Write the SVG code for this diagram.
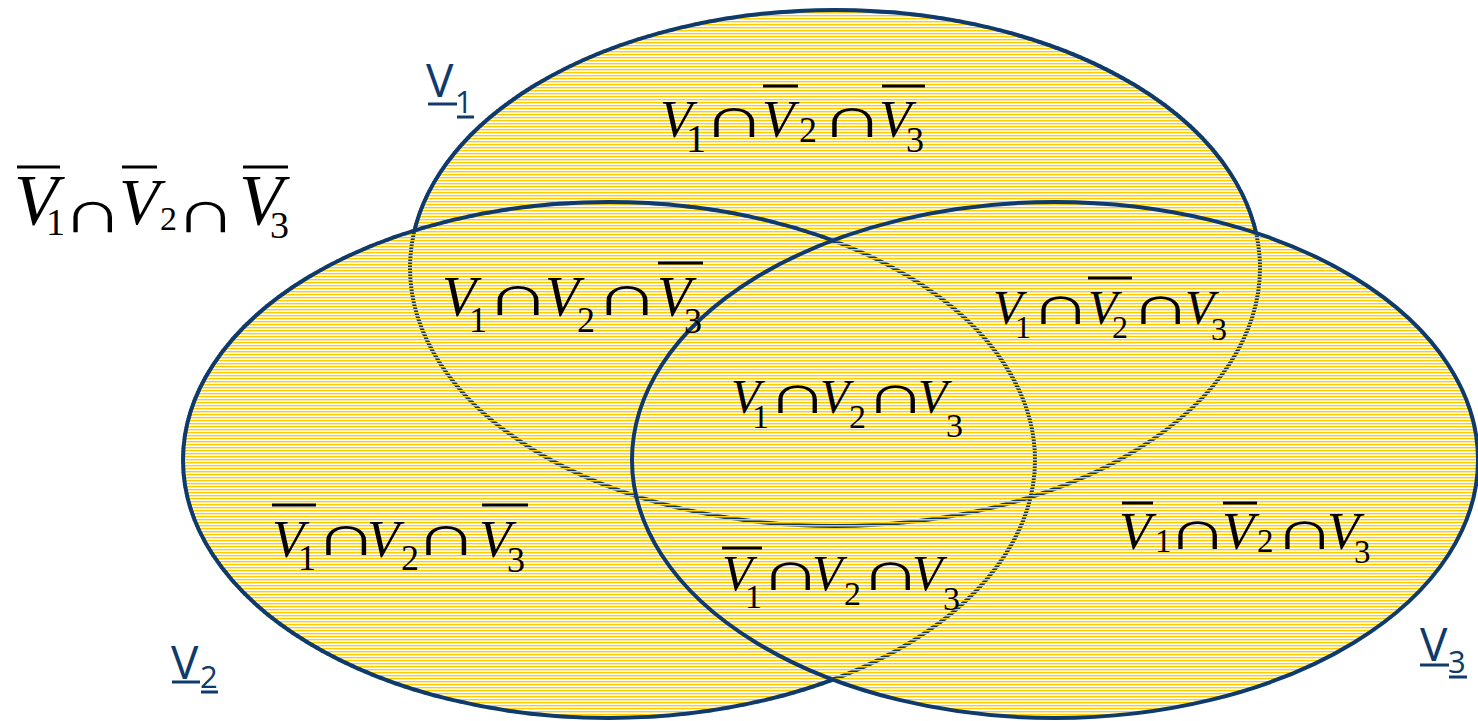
<svg xmlns="http://www.w3.org/2000/svg" width="1478" height="721" viewBox="0 0 1478 721">
<defs>
<pattern id="stripes" patternUnits="userSpaceOnUse" width="12" height="3">
<rect x="0" y="0" width="12" height="1" fill="#FFCC00"/>
<rect x="0" y="1" width="12" height="1" fill="#FFEBA0"/>
</pattern>
<pattern id="navystripes" patternUnits="userSpaceOnUse" width="12" height="3">
<rect x="0" y="1" width="12" height="1" fill="#0E3A6C" fill-opacity="0.6"/>
</pattern>
<style>
.set{fill:url(#stripes);stroke:#0E3A6C;stroke-width:4}
.under{fill:none;stroke:url(#navystripes);stroke-width:4}
.m{font-family:"Liberation Serif","Times New Roman",serif;fill:#000}
.v{font-style:italic}
.cap{font-family:"Liberation Serif","Times New Roman",serif;font-size:48px;fill:#000;text-anchor:middle}
.ov{stroke:#000;stroke-width:3}
.lab{font-family:"Open Sans","Liberation Sans",sans-serif;fill:#0E3A6C}
.ul{stroke:#0E3A6C;stroke-width:3}
</style>
</defs>
<rect width="1478" height="721" fill="#fff"/>
<g id="set-v1"><ellipse class="set" cx="835" cy="268" rx="425" ry="258"/></g>
<g id="set-v2"><ellipse class="set" cx="609" cy="460" rx="426" ry="258"/></g>
<g id="set-v3"><ellipse class="set" cx="1055" cy="460" rx="423" ry="258"/></g>
<g id="hidden-outlines">
<ellipse class="under" cx="835" cy="268" rx="425" ry="258"/>
<ellipse class="under" cx="609" cy="460" rx="426" ry="258"/>
</g>
<g id="connectors"></g>

<g id="label-v1">
<text class="lab" x="426" y="97" font-size="46">V</text>
<text class="lab" x="455" y="113" font-size="31">1</text>
<line class="ul" x1="428" y1="104" x2="457" y2="104"/>
<line class="ul" x1="457" y1="117" x2="474" y2="117"/>
</g>
<g id="label-v2">
<text class="lab" x="171" y="679" font-size="46">V</text>
<text class="lab" x="200" y="688" font-size="31">2</text>
<line class="ul" x1="172" y1="682" x2="200" y2="682"/>
<line class="ul" x1="201" y1="692" x2="218" y2="692"/>
</g>
<g id="label-v3">
<text class="lab" x="1420" y="661" font-size="46">V</text>
<text class="lab" x="1448" y="673" font-size="31">3</text>
<line class="ul" x1="1420" y1="665" x2="1449" y2="665"/>
<line class="ul" x1="1449" y1="677" x2="1467" y2="677"/>
</g>

<g id="region-none">
<line class="ov" x1="17" y1="167" x2="60" y2="167"/>
<line class="ov" x1="122" y1="167" x2="157" y2="167"/>
<line class="ov" x1="243" y1="167" x2="288" y2="167"/>
<text class="m">
<tspan class="v" x="14" y="224" font-size="72">V</tspan>
<tspan x="46" y="235" font-size="38">1</tspan>
<tspan class="v" x="119" y="224" font-size="66">V</tspan>
<tspan x="160" y="230" font-size="34">2</tspan>
<tspan class="v" x="239" y="224" font-size="72">V</tspan>
<tspan x="270" y="238" font-size="38">3</tspan>
</text>
<text class="cap" transform="translate(93,232) scale(1.8,1.25)">∩</text>
<text class="cap" transform="translate(206,232) scale(1.8,1.25)">∩</text>
</g>

<g id="region-v1-only">
<line class="ov" x1="763" y1="86" x2="798" y2="86"/>
<line class="ov" x1="882" y1="86" x2="925" y2="86"/>
<text class="m">
<tspan class="v" x="660" y="137" font-size="53">V</tspan>
<tspan x="686" y="152" font-size="40">1</tspan>
<tspan class="v" x="762" y="137" font-size="53">V</tspan>
<tspan x="799" y="142" font-size="36">2</tspan>
<tspan class="v" x="879" y="137" font-size="53">V</tspan>
<tspan x="906" y="152" font-size="36">3</tspan>
</text>
<text class="cap" transform="translate(734,137) scale(1.85,1.2)">∩</text>
<text class="cap" transform="translate(852,137) scale(1.85,1.2)">∩</text>
</g>

<g id="region-v1-v2">
<line class="ov" x1="658" y1="263" x2="703" y2="263"/>
<text class="m">
<tspan class="v" x="442" y="316" font-size="56">V</tspan>
<tspan x="469" y="332" font-size="36">1</tspan>
<tspan class="v" x="545" y="316" font-size="56">V</tspan>
<tspan x="577" y="332" font-size="36">2</tspan>
<tspan class="v" x="657" y="316" font-size="56">V</tspan>
<tspan x="684" y="333" font-size="36">3</tspan>
</text>
<text class="cap" transform="translate(518,315) scale(1.9,1.2)">∩</text>
<text class="cap" transform="translate(627,315) scale(1.9,1.2)">∩</text>
</g>

<g id="region-v1-v3">
<line class="ov" x1="1088" y1="278" x2="1132" y2="278"/>
<text class="m">
<tspan class="v" x="993" y="324" font-size="48">V</tspan>
<tspan x="1015" y="338" font-size="32">1</tspan>
<tspan class="v" x="1088" y="324" font-size="48">V</tspan>
<tspan x="1112" y="338" font-size="32">2</tspan>
<tspan class="v" x="1185" y="324" font-size="48">V</tspan>
<tspan x="1211" y="340" font-size="32">3</tspan>
</text>
<text class="cap" transform="translate(1061,324) scale(1.8,1.15)">∩</text>
<text class="cap" transform="translate(1161,324) scale(1.8,1.15)">∩</text>
</g>

<g id="region-all">
<text class="m">
<tspan class="v" x="731" y="413" font-size="48">V</tspan>
<tspan x="752" y="428" font-size="34">1</tspan>
<tspan class="v" x="820" y="413" font-size="48">V</tspan>
<tspan x="849" y="428" font-size="34">2</tspan>
<tspan class="v" x="918" y="413" font-size="48">V</tspan>
<tspan x="946" y="437" font-size="34">3</tspan>
</text>
<text class="cap" transform="translate(798,413) scale(1.8,1.15)">∩</text>
<text class="cap" transform="translate(896,413) scale(1.8,1.15)">∩</text>
</g>

<g id="region-v2-only">
<line class="ov" x1="272" y1="505" x2="316" y2="505"/>
<line class="ov" x1="482" y1="505" x2="528" y2="505"/>
<text class="m">
<tspan class="v" x="272" y="557" font-size="53">V</tspan>
<tspan x="298" y="570" font-size="36">1</tspan>
<tspan class="v" x="367" y="557" font-size="53">V</tspan>
<tspan x="401" y="570" font-size="36">2</tspan>
<tspan class="v" x="479" y="557" font-size="53">V</tspan>
<tspan x="507" y="572" font-size="36">3</tspan>
</text>
<text class="cap" transform="translate(346,555) scale(1.85,1.2)">∩</text>
<text class="cap" transform="translate(446,555) scale(1.85,1.2)">∩</text>
</g>

<g id="region-v2-v3">
<line class="ov" x1="722" y1="548" x2="762" y2="548"/>
<text class="m">
<tspan class="v" x="722" y="590" font-size="50">V</tspan>
<tspan x="745" y="608" font-size="34">1</tspan>
<tspan class="v" x="812" y="590" font-size="50">V</tspan>
<tspan x="844" y="605" font-size="34">2</tspan>
<tspan class="v" x="912" y="590" font-size="50">V</tspan>
<tspan x="943" y="610" font-size="34">3</tspan>
</text>
<text class="cap" transform="translate(791,590) scale(1.8,1.15)">∩</text>
<text class="cap" transform="translate(891,590) scale(1.8,1.15)">∩</text>
</g>

<g id="region-v3-only">
<line class="ov" x1="1122" y1="503" x2="1153" y2="503"/>
<line class="ov" x1="1223" y1="503" x2="1257" y2="503"/>
<text class="m">
<tspan class="v" x="1119" y="549" font-size="53">V</tspan>
<tspan x="1155" y="552" font-size="33">1</tspan>
<tspan class="v" x="1222" y="549" font-size="53">V</tspan>
<tspan x="1257" y="552" font-size="33">2</tspan>
<tspan class="v" x="1327" y="549" font-size="53">V</tspan>
<tspan x="1354" y="563" font-size="33">3</tspan>
</text>
<text class="cap" transform="translate(1198,549) scale(1.8,1.15)">∩</text>
<text class="cap" transform="translate(1305,549) scale(1.8,1.15)">∩</text>
</g>
</svg>
